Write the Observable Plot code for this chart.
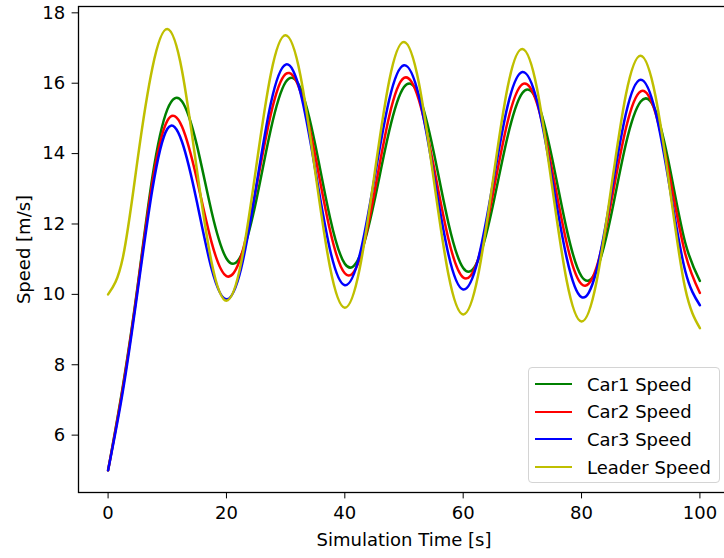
<!DOCTYPE html>
<html><head><meta charset="utf-8">
<script src="https://cdn.jsdelivr.net/npm/d3@7"></script>
<script src="https://cdn.jsdelivr.net/npm/@observablehq/plot@0.6"></script>
<style>
html,body{margin:0;padding:0;background:#fff;overflow:hidden;}
#wrap{position:relative;width:724px;height:558px;overflow:hidden;}
#wrap svg{max-width:none !important;}
.legend{position:absolute;left:528px;top:367px;width:192px;height:116px;border:1px solid #d4d4d4;border-radius:4px;background:rgba(255,255,255,0.8);box-sizing:border-box;font-family:"DejaVu Sans";font-size:18px;color:#000;}
.row{position:absolute;left:6px;height:22px;display:flex;align-items:center;white-space:nowrap;}
.sw{width:37px;height:0;border-top:2.5px solid;margin-right:15px;}
</style></head><body><div id="wrap"></div><script>
const time = [0,2.5,5,7.5,10,12.5,15,17.5,20,22.5,25,27.5,30,32.5,35,37.5,40,42.5,45,47.5,50,52.5,55,57.5,60,62.5,65,67.5,70,72.5,75,77.5,80,82.5,85,87.5,90,92.5,95,97.5,100];
const car1 = [5.0,7.4,10.25,13.35,15.25,15.48,14.24,12.34,11.02,11.12,12.64,14.69,16.03,15.86,14.26,12.18,10.87,11.08,12.65,14.64,15.89,15.66,14.06,12.03,10.75,10.96,12.51,14.48,15.72,15.49,13.89,11.84,10.51,10.68,12.25,14.28,15.48,15.22,13.52,11.48,10.38];
const car2 = [5.0,7.35,10.2,13.2,14.93,14.76,13.27,11.47,10.52,11.10,12.99,15.12,16.26,15.76,13.94,11.82,10.60,11.0,12.89,15.06,16.15,15.53,13.66,11.58,10.48,10.99,12.83,14.90,15.97,15.41,13.56,11.45,10.29,10.75,12.61,14.72,15.77,15.15,13.26,11.17,10.04];
const car3 = [5.0,7.25,10.1,13.0,14.7,14.33,12.63,10.72,9.86,10.75,13.04,15.43,16.53,15.74,13.55,11.27,10.26,11.11,13.29,15.53,16.51,15.65,13.43,11.14,10.14,10.98,13.13,15.35,16.32,15.48,13.31,11.03,9.92,10.66,12.86,15.14,16.1,15.18,12.94,10.68,9.69];
const leader = [10.0,11.05,13.85,16.45,17.54,16.35,13.55,10.9,9.82,10.91,13.59,16.26,17.36,16.22,13.49,10.77,9.62,10.72,13.39,16.07,17.17,16.02,13.30,10.57,9.43,10.52,13.20,15.88,16.97,15.83,13.10,10.38,9.23,10.33,13.01,15.68,16.78,15.63,12.91,10.18,9.04];
const seriesNames = ["Car1 Speed","Car2 Speed","Car3 Speed","Leader Speed"];
const seriesColors = ["#008000","#ff0000","#0000ff","#bfbf00"];
const seriesValues = [car1, car2, car3, leader];
const xTicks = [0,20,40,60,80,100];
const yTicks = [6,8,10,12,14,16,18];

const rows = seriesNames.flatMap((name, k) => time.map((t, i) => ({t, v: seriesValues[k][i], name})));

const chart = Plot.plot({
  width: 731, height: 558,
  marginLeft: 78, marginRight: 2, marginTop: 6, marginBottom: 66,
  style: {fontFamily: "DejaVu Sans", fontSize: "18px", color: "#000", background: "#fff", overflow: "visible", maxWidth: "none"},
  x: {domain: [-5, 105]},
  y: {domain: [4.37, 18.18]},
  color: {domain: seriesNames, range: seriesColors},
  marks: [
    Plot.line(rows, {x: "t", y: "v", stroke: "name", z: "name", strokeWidth: 2.5, curve: "natural"}),
    Plot.frame({stroke: "#000", strokeWidth: 1.3}),
    Plot.axisX({ticks: xTicks, tickSize: 6.4, tickPadding: 7, label: "Simulation Time [s]", labelAnchor: "center", labelArrow: "none", labelOffset: 53}),
    Plot.axisY({ticks: yTicks, tickSize: 6.4, tickPadding: 7, label: "Speed [m/s]", labelAnchor: "center", labelArrow: "none", labelOffset: 61})
  ]
});
const wrap = document.getElementById("wrap");
wrap.appendChild(chart);

const legend = d3.select(wrap).append("div").attr("class", "legend");
seriesNames.forEach((name, i) => {
  const row = legend.append("div").attr("class", "row").style("top", (5 + i * 27.7) + "px");
  row.append("div").attr("class", "sw").style("border-top-color", seriesColors[i]);
  row.append("span").text(name);
});
</script></body></html>
